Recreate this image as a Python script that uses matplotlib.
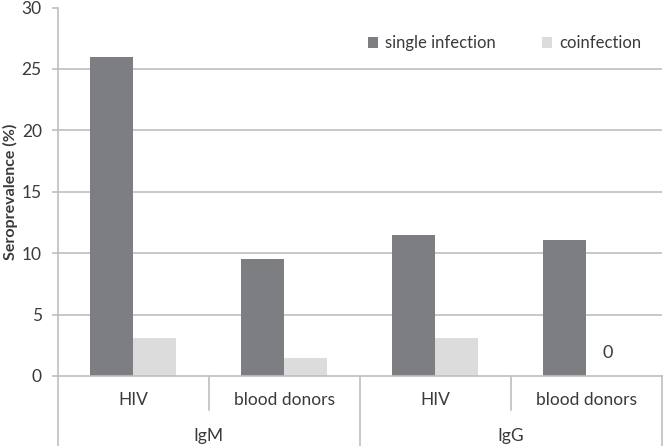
import matplotlib
import matplotlib.pyplot as plt
import matplotlib.transforms as mtransforms
import numpy as np

matplotlib.use("Agg")

subgroups = ["HIV", "blood donors", "HIV", "blood donors"]
antibodies = ["IgM", "IgG"]
single_infection = [26.0, 9.5, 11.5, 11.1]
coinfection = [3.1, 1.5, 3.1, 0.0]
yticks = [0, 5, 10, 15, 20, 25, 30]

plt.rcParams["font.family"] = ["Lato", "DejaVu Sans"]
text_color = "#3a3a3a"
line_color = "#bfbfbf"

fig = plt.figure(figsize=(6.64, 4.46), dpi=100)
ax = fig.add_axes([57.7 / 664, 70 / 446, (662 - 57.7) / 664, 368.5 / 446])

x = np.arange(len(subgroups))
width = 0.285
ax.bar(x - width / 2, single_infection, width, color="#7d7e82", label="single infection", zorder=2)
ax.bar(x + width / 2, coinfection, width, color="#dcdcdd", label="coinfection", zorder=2)

ax.set_xlim(-0.5, len(subgroups) - 0.5)
ax.set_ylim(0, 30)
ax.set_yticks(yticks)
ax.hlines(yticks[1:-1], -0.5, len(subgroups) - 0.5, color=line_color, linewidth=1.2, zorder=1)

for side in ["top", "right"]:
	ax.spines[side].set_visible(False)
for side in ["left", "bottom"]:
	ax.spines[side].set_color(line_color)
	ax.spines[side].set_linewidth(1.2)

ax.tick_params(axis="y", length=4.5, width=1.2, color=line_color, labelsize=12.5, labelcolor=text_color, pad=7)
ax.set_xticks([])
ax.set_ylabel("Seroprevalence (%)", fontsize=11.5, fontweight="bold", color=text_color)
ax.yaxis.set_label_coords(-0.066, 0.5)

# zero label on the empty coinfection bar
ax.annotate("0", (x[3] + width / 2, coinfection[3]), xytext=(0, 11), textcoords="offset points",
	ha="center", va="bottom", fontsize=13, color=text_color)

# two-level category axis
trans = mtransforms.blended_transform_factory(ax.transData, ax.transAxes)
bottom = -70 / 368.5
short = -34 / 368.5
for xv in [-0.5, 3.5, 1.5]:
	ax.plot([xv, xv], [0, bottom], transform=trans, color=line_color, linewidth=1.2, clip_on=False)
for xv in [0.5, 2.5]:
	ax.plot([xv, xv], [0, short], transform=trans, color=line_color, linewidth=1.2, clip_on=False)
for xi, name in zip(x, subgroups):
	ax.text(xi, -24 / 368.5, name, transform=trans, ha="center", va="center", fontsize=12.5, color=text_color)
for i, name in enumerate(antibodies):
	ax.text(2 * i + 0.5, -59.5 / 368.5, name, transform=trans, ha="center", va="center", fontsize=12.5, color=text_color)

ax.legend(loc="upper right", bbox_to_anchor=(0.99, 0.965), ncol=2, frameon=False, fontsize=12,
	handlelength=0.6, handleheight=0.6, handletextpad=0.4, columnspacing=2.8, labelcolor=text_color)

fig.savefig("out.png", dpi=100)
